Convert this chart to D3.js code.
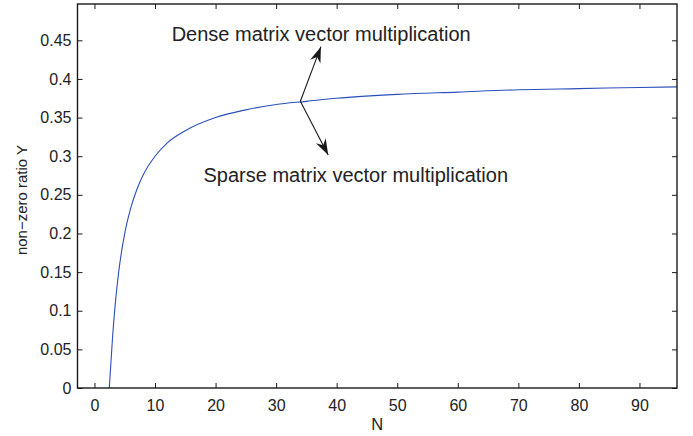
<!DOCTYPE html>
<html>
<head>
<meta charset="utf-8">
<script src="https://cdn.jsdelivr.net/npm/d3@7"></script>
<style>
	body { margin: 0; background: #fff; }
	svg { font-family: "Liberation Sans", Arial, sans-serif; }
	.axis text { font-size: 16px; fill: #222; }
	.axis line { stroke: #1a1a1a; stroke-width: 1; }
	.axis path { display: none; }
</style>
</head>
<body>
<svg></svg>
<script>
// values
const nValues = [2.45, 3, 3.5, 4, 5, 6, 7, 8, 10, 12, 15, 20, 25, 30, 35, 40, 50, 60, 70, 80, 90, 96.2];
const ratioValues = [0, 0.067, 0.114, 0.15, 0.2, 0.233, 0.257, 0.275, 0.3, 0.317, 0.333, 0.35, 0.36, 0.367, 0.371, 0.375, 0.38, 0.383, 0.386, 0.3875, 0.389, 0.3897];
const xTicks = [0, 10, 20, 30, 40, 50, 60, 70, 80, 90];
const yTicks = [0, 0.05, 0.1, 0.15, 0.2, 0.25, 0.3, 0.35, 0.4, 0.45];
const arrowFrom = [34.0, 0.3712];
const arrowTips = [[37.4, 0.4418], [38.6, 0.3016]];
const labels = [
	{ text: "Dense matrix vector multiplication", n: 12.75, y: 0.4485 },
	{ text: "Sparse matrix vector multiplication", n: 18.0, y: 0.2665 }
];

const svg = d3.select("svg");
svg.attr("width", 693).attr("height", 436);

const x = d3.scaleLinear().domain([-2.8, 96.2]).range([77.5, 677]);
const y = d3.scaleLinear().domain([0, 0.497]).range([388, 4]);

const xAxis = d3.axisBottom(x).tickValues(xTicks).tickSizeInner(-5).tickSizeOuter(0).tickPadding(11.5);
const yAxis = d3.axisLeft(y).tickValues(yTicks).tickSizeInner(-5).tickSizeOuter(0).tickPadding(6)
	.tickFormat((d) => d3.format("~g")(d));
const xTop = d3.axisTop(x).tickValues(xTicks).tickSizeInner(-5).tickSizeOuter(0).tickFormat("");
const yRight = d3.axisRight(y).tickValues(yTicks).tickSizeInner(-5).tickSizeOuter(0).tickFormat("");

svg.append("g").attr("class", "axis").attr("transform", "translate(0,388)").call(xAxis);
svg.append("g").attr("class", "axis").attr("transform", "translate(77.5,0)").call(yAxis);
svg.append("g").attr("class", "axis").attr("transform", "translate(0,4)").call(xTop);
svg.append("g").attr("class", "axis").attr("transform", "translate(677,0)").call(yRight);

// the curve
const line = d3
	.line()
	.x((d) => x(d[0]))
	.y((d) => y(d[1]))
	.curve(d3.curveMonotoneX);

svg.append("path")
	.datum(d3.zip(nValues, ratioValues))
	.attr("d", line)
	.attr("fill", "none")
	.attr("stroke", "#2b4fba")
	.attr("stroke-width", 1.1);

// frame
svg.append("rect")
	.attr("x", 77.5).attr("y", 4)
	.attr("width", 677 - 77.5).attr("height", 384)
	.attr("fill", "none")
	.attr("stroke", "#1a1a1a")
	.attr("stroke-width", 1.4);

// arrows
const arrows = svg.append("g");
arrowTips.forEach((tip) => {
	const x0 = x(arrowFrom[0]), y0 = y(arrowFrom[1]);
	const x1 = x(tip[0]), y1 = y(tip[1]);
	const ang = Math.atan2(y1 - y0, x1 - x0) * 180 / Math.PI;
	arrows.append("line")
		.attr("x1", x0).attr("y1", y0)
		.attr("x2", x1).attr("y2", y1)
		.attr("stroke", "#1a1a1a")
		.attr("stroke-width", 1.1);
	arrows.append("path")
		.attr("d", "M0,0L-16,-5.5L-11,0L-16,5.5Z")
		.attr("transform", `translate(${x1},${y1}) rotate(${ang})`)
		.attr("fill", "#1a1a1a");
});

svg.selectAll("text.note")
	.data(labels)
	.enter()
	.append("text")
	.attr("class", "note")
	.attr("x", (d) => x(d.n))
	.attr("y", (d) => y(d.y))
	.attr("font-size", 20)
	.attr("fill", "#222")
	.text((d) => d.text);

// axis titles
svg.append("text")
	.attr("x", x((x.domain()[0] + x.domain()[1]) / 2))
	.attr("y", 430)
	.attr("text-anchor", "middle")
	.attr("font-size", 16.5)
	.attr("fill", "#222")
	.text("N");

svg.append("text")
	.attr("transform", `translate(26.5,${(4 + 388) / 2 + 4}) rotate(-90)`)
	.attr("text-anchor", "middle")
	.attr("font-size", 15)
	.attr("fill", "#222")
	.text("non\u2212zero ratio Y");
</script>
</body>
</html>
